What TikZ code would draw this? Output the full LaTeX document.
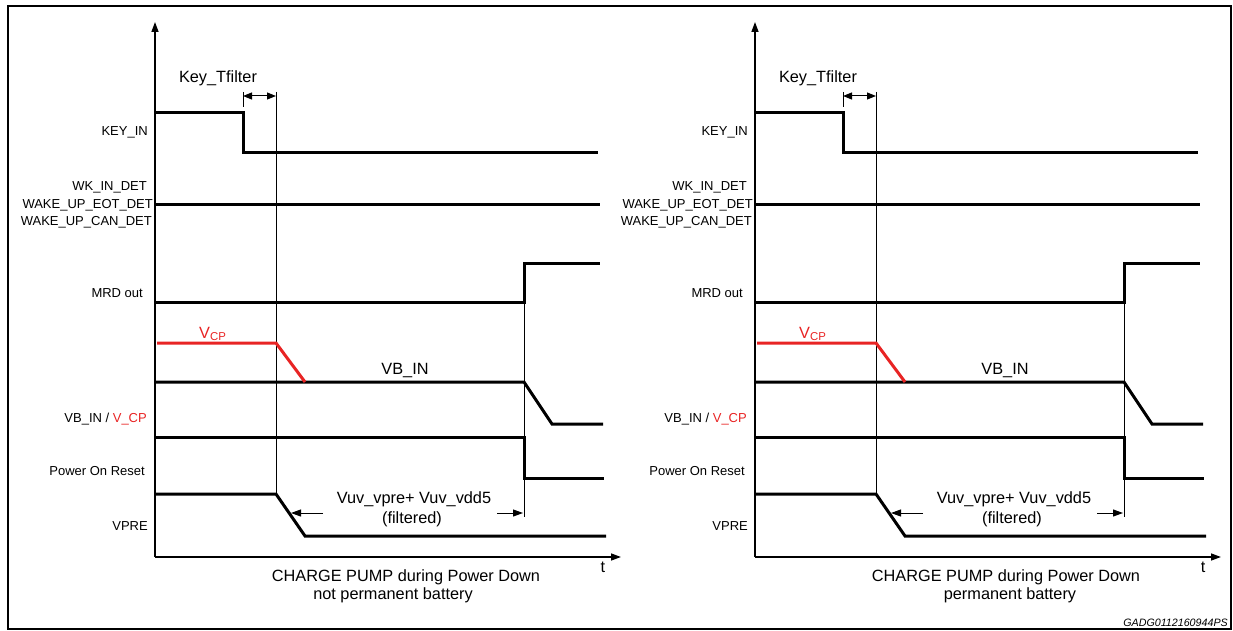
\documentclass[tikz,border=0pt]{standalone}
\usepackage{fontspec}
\setmainfont{Liberation Sans}
\usetikzlibrary{arrows.meta}
\definecolor{cpred}{RGB}{232,36,36}
\tikzset{
  sig/.style={line width=3pt, line join=miter},
  thinl/.style={line width=0.9pt},
  axisarr/.style={line width=1.4pt, -{Triangle[length=10pt,width=7pt]}},
  lbl/.style={font=\fontsize{13}{15}\selectfont, inner sep=0pt, anchor=base east},
  big/.style={font=\fontsize{16.3}{19}\selectfont, inner sep=0pt, anchor=base},
  dimarr/.style={line width=1pt, -{Triangle[length=10pt,width=7pt]}},
  dimboth/.style={line width=1pt, {Triangle[length=9pt,width=7pt]}-{Triangle[length=9pt,width=7pt]}},
}
\newcommand\drawpanel[4]{%
\begin{scope}[xshift=#1pt]
  % axes
  \coordinate (o#2) at (155,557);
  \coordinate (yt#2) at (155,22);
  \coordinate (xt#2) at (621,557);
  \draw[axisarr] (o#2) -- (yt#2);
  \draw[axisarr] (o#2) -- (xt#2);
  \node[big] (t#2) at (603,572) {t};
  % thin markers
  \coordinate (ka#2) at (243,92);
  \coordinate (kb#2) at (243,107);
  \coordinate (ta#2) at (276,92);
  \coordinate (tb#2) at (276,494);
  \coordinate (ma#2) at (524,302);
  \coordinate (mb#2) at (524,517);
  \draw[thinl] (ka#2) -- (kb#2);
  \draw[thinl] (ta#2) -- (tb#2);
  \draw[thinl] (ma#2) -- (mb#2);
  % Key_Tfilter
  \node[big] (kt#2) at (218,83) {Key\_Tfilter};
  \coordinate (da#2) at (243,96);
  \coordinate (db#2) at (276,96);
  \draw[dimboth] (da#2) -- (db#2);
  % signals
  \draw[sig] (155,113) -- (243,113) -- (243,153) -- (598,153);
  \draw[sig] (155,204) -- (600,204);
  \draw[sig] (155,302) -- (524,302) -- (524,263) -- (600,263);
  \draw[sig] (155,382) -- (524,382) -- (552,424) -- (603,424);
  \draw[sig, cpred] (157,343) -- (276,343) -- (305,382);
  \draw[sig] (155,437) -- (524,437) -- (524,478) -- (604,478);
  \draw[sig] (155,494) -- (276,494) -- (305,536) -- (606,536);
  % signal labels
  \node[lbl] (lkey#2) at (148,136) {KEY\_IN};
  \node[lbl] (lwk#2) at (147,190.5) {WK\_IN\_DET};
  \node[lbl] (leot#2) at (153,208) {WAKE\_UP\_EOT\_DET};
  \node[lbl] (lcan#2) at (152,225) {WAKE\_UP\_CAN\_DET};
  \node[lbl] (lmrd#2) at (143,297) {MRD out};
  \node[lbl] (lvb#2) at (147,422) {VB\_IN / \textcolor{cpred}{V\_CP}};
  \node[lbl] (lpor#2) at (145,475) {Power On Reset};
  \node[lbl] (lvpre#2) at (148,530) {VPRE};
  % in-plot labels
  \node[big, anchor=base west, text=cpred] (vcp#2) at (199,338) {V\textsubscript{CP}};
  \node[big] (vbin#2) at (405,374) {VB\_IN};
  \node[big] (vuv#2) at (414,503) {Vuv\_vpre+ Vuv\_vdd5};
  \node[big] (filt#2) at (412,523.5) {(filtered)};
  \coordinate (la#2) at (323,513);
  \coordinate (lb#2) at (291,513);
  \coordinate (ra#2) at (497,513);
  \coordinate (rb#2) at (523,513);
  \draw[dimarr] (la#2) -- (lb#2);
  \draw[dimarr] (ra#2) -- (rb#2);
  % caption
  \node[big] (cap#2) at (406,581) {CHARGE PUMP during Power Down};
  \node[big] (capb#2) at (#3,599) {#4};
\end{scope}}

\begin{document}
\begin{tikzpicture}[x=1pt, y=-1pt]
  \useasboundingbox (0,0) rectangle (1233,631);
  \draw[line width=2.6pt] (8,6) rectangle (1231,629);
  \drawpanel{0}{L}{393}{not permanent battery}
  \drawpanel{600}{R}{410}{permanent battery}
  \node[font=\fontsize{10.7}{12}\selectfont\itshape, inner sep=0pt, anchor=base east] (gadg) at (1228,626) {GADG0112160944PS};
\end{tikzpicture}
\end{document}
